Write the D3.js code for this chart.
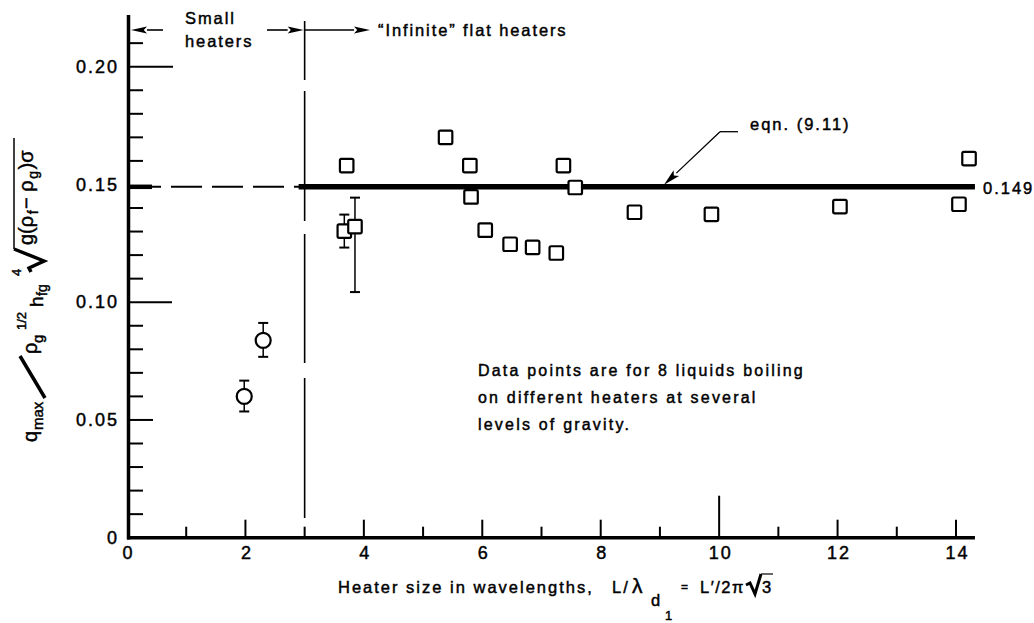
<!DOCTYPE html>
<html><head><meta charset="utf-8">
<script src="https://cdn.jsdelivr.net/npm/d3@7"></script>
<style>
body{margin:0;background:#fff}
svg{display:block}
text{font-family:"Liberation Sans",Arial,Helvetica,sans-serif;fill:#000;stroke:#000;stroke-width:0.45px}
</style>
</head><body>
<svg id="c" width="1034" height="623"></svg>
<script>
// ---- data ----
const squareX = [3.71, 5.38, 5.79, 7.37, 7.57, 5.81, 6.05, 6.47, 6.85, 7.25, 8.57, 9.87, 12.04, 14.05, 14.22];
const squareY = [0.158, 0.170, 0.158, 0.158, 0.1487, 0.1447, 0.1306, 0.1246, 0.1233, 0.1209, 0.1382, 0.1373, 0.1406, 0.1416, 0.161];
const errSquareX = [3.67, 3.85];
const errSquareY = [0.1302, 0.1321];
const errSquareLo = [0.1232, 0.1043];
const errSquareHi = [0.1372, 0.1444];
const circleX = [1.98, 2.30];
const circleY = [0.060, 0.0838];
const circleLo = [0.0536, 0.0768];
const circleHi = [0.0667, 0.0912];
const xTickLabels = [0, 2, 4, 6, 8, 10, 12, 14];
const yTickLabels = [0, 0.05, 0.10, 0.15, 0.20];
const eqnValue = 0.149;
const boundaryX = 3;
const lineEndX = 14.32;
const noteLines = ["Data points are for 8 liquids boiling", "on different heaters at several", "levels of gravity."];

// ---- scales ----
const x = d3.scaleLinear().domain([0, 14]).range([127, 956]);
const y = d3.scaleLinear().domain([0, 0.20]).range([537.7, 66.7]);

const svg = d3.select("#c");
const g = svg.append("g");

// axis lines
g.append("line").attr("x1", 128.5).attr("x2", 128.5).attr("y1", 15).attr("y2", 539.5)
  .attr("stroke", "#000").attr("stroke-width", 3.5);
g.append("line").attr("x1", 127).attr("x2", x(lineEndX)).attr("y1", y(0)).attr("y2", y(0))
  .attr("stroke", "#000").attr("stroke-width", 3.5);

// y ticks (inward)
const yMinor = d3.range(1, 22).filter(i => i % 5 !== 0).map(i => i / 100);
g.selectAll(".ymin").data(yMinor).enter().append("line")
  .attr("x1", 129).attr("x2", 143).attr("y1", d => y(d)).attr("y2", d => y(d))
  .attr("stroke", "#000").attr("stroke-width", 2);
const yMajor = [[0.05, 24], [0.10, 43], [0.20, 44]];
g.selectAll(".ymaj").data(yMajor).enter().append("line")
  .attr("x1", 129).attr("x2", d => 129 + d[1]).attr("y1", d => y(d[0])).attr("y2", d => y(d[0]))
  .attr("stroke", "#000").attr("stroke-width", 2);

// y tick labels
const yAxis = d3.axisLeft(y).tickValues(yTickLabels).tickSize(0).tickPadding(3)
  .tickFormat(d => d === 0 ? "0" : d.toFixed(2));
const ya = g.append("g").attr("transform", "translate(122,0)").call(yAxis);
ya.select(".domain").remove();
ya.selectAll("text").attr("font-size", 18).attr("letter-spacing", 2)
  .attr("font-family", '"Liberation Sans",Arial,sans-serif').attr("fill", "#000");

// x ticks (upward)
const xTickAll = d3.range(1, 15);
g.selectAll(".xt").data(xTickAll).enter().append("line")
  .attr("x1", d => x(d)).attr("x2", d => x(d)).attr("y1", y(0))
  .attr("y2", d => y(0) - (d === 10 ? 42 : (d % 2 === 0 ? 18 : 11)))
  .attr("stroke", "#000").attr("stroke-width", 2);

// x tick labels
const xAxis = d3.axisBottom(x).tickValues(xTickLabels).tickSize(0).tickPadding(9).tickFormat(d3.format("d"));
const xa = g.append("g").attr("transform", `translate(1,${y(0)})`).call(xAxis);
xa.select(".domain").remove();
xa.selectAll("text").attr("font-size", 18).attr("letter-spacing", 2)
  .attr("font-family", '"Liberation Sans",Arial,sans-serif').attr("fill", "#000");

// vertical dashed boundary
g.append("line").attr("x1", x(boundaryX)).attr("x2", x(boundaryX)).attr("y1", 21).attr("y2", 518)
  .attr("stroke", "#000").attr("stroke-width", 1.6)
  .attr("stroke-dasharray", "59,11,130,13,129,15,141");

// horizontal dashed at 0.149 (left of boundary)
g.append("line").attr("x1", 130).attr("x2", x(boundaryX)).attr("y1", y(eqnValue)).attr("y2", y(eqnValue))
  .attr("stroke", "#000").attr("stroke-width", 2).attr("stroke-dasharray", "31,10");
g.append("line").attr("x1", 130).attr("x2", 152).attr("y1", y(eqnValue)).attr("y2", y(eqnValue))
  .attr("stroke", "#000").attr("stroke-width", 4.5);

// thick eqn line
g.append("line").attr("x1", x(boundaryX) - 6).attr("x2", x(lineEndX)).attr("y1", y(eqnValue)).attr("y2", y(eqnValue))
  .attr("stroke", "#000").attr("stroke-width", 5.5);

// arrows helper
function arrow(x1, y1, x2, y2, len, hw, sw) {
  const a = Math.atan2(y2 - y1, x2 - x1);
  const bx = x2 - len * Math.cos(a), by = y2 - len * Math.sin(a);
  g.append("line").attr("x1", x1).attr("y1", y1).attr("x2", bx).attr("y2", by)
    .attr("stroke", "#000").attr("stroke-width", sw);
  const px = -Math.sin(a) * hw, py = Math.cos(a) * hw;
  g.append("path").attr("d", `M${x2},${y2}L${bx + px},${by + py}L${bx + len*0.2*Math.cos(a)},${by + len*0.2*Math.sin(a)}L${bx - px},${by - py}Z`)
    .attr("fill", "#000");
}
arrow(163, 30, 131, 30, 16, 3.5, 1.6);
arrow(267, 30, x(boundaryX) - 1, 30, 16, 3.5, 1.6);
arrow(x(boundaryX), 30, 370, 30, 16, 3.5, 1.6);

// top texts
const topText = (t, tx, ty) => g.append("text").attr("x", tx).attr("y", ty).attr("font-size", 16.5)
  .attr("letter-spacing", 1.9).text(t);
topText("Small", 185, 24);
topText("heaters", 185, 47);
topText("\u201CInfinite\u201D  flat heaters", 378, 36);

// error bars
function errBar(xs, lo, hi, cap) {
  g.append("line").attr("x1", xs).attr("x2", xs).attr("y1", y(lo)).attr("y2", y(hi))
    .attr("stroke", "#000").attr("stroke-width", 1.5);
  [lo, hi].forEach(v => g.append("line").attr("x1", xs - cap).attr("x2", xs + cap)
    .attr("y1", y(v)).attr("y2", y(v)).attr("stroke", "#000").attr("stroke-width", 2));
}
errSquareX.forEach((d, i) => errBar(x(d), errSquareLo[i], errSquareHi[i], 5));
circleX.forEach((d, i) => errBar(x(d), circleLo[i], circleHi[i], 5));

// squares
const sq = 13.5;
const allSqX = squareX.concat(errSquareX), allSqY = squareY.concat(errSquareY);
g.selectAll(".sq").data(d3.range(allSqX.length)).enter().append("rect")
  .attr("x", i => x(allSqX[i]) - sq / 2).attr("y", i => y(allSqY[i]) - sq / 2)
  .attr("width", sq).attr("height", sq).attr("rx", 1.5)
  .attr("fill", "#fff").attr("stroke", "#000").attr("stroke-width", 2.2);

// circles
g.selectAll(".ci").data(d3.range(circleX.length)).enter().append("circle")
  .attr("cx", i => x(circleX[i])).attr("cy", i => y(circleY[i])).attr("r", 7.5)
  .attr("fill", "#fff").attr("stroke", "#000").attr("stroke-width", 2.2);

// eqn label + leader
g.append("path").attr("d", "M738,131.7L720,131.7").attr("stroke", "#000").attr("stroke-width", 1.3);
arrow(720, 131.7, 664, y(eqnValue) - 2, 17, 4, 1.3);
g.append("text").attr("x", 750).attr("y", 130).attr("font-size", 16.5).attr("letter-spacing", 2).text("eqn. (9.11)");
g.append("text").attr("x", 983).attr("y", y(eqnValue) + 7).attr("font-size", 16.5).attr("letter-spacing", 2).text(String(eqnValue));

// note
noteLines.forEach((t, i) => g.append("text").attr("x", 478).attr("y", 376 + i * 27)
  .attr("font-size", 16).attr("letter-spacing", 2.2).text(t));

// x axis title
const xl = g.append("g");
const xt = (t, tx, ty, fs, ls) => xl.append("text").attr("x", tx).attr("y", ty).attr("font-size", fs)
  .attr("letter-spacing", ls === undefined ? 2 : ls).text(t);
xt("Heater size in wavelengths,", 338, 593, 16.5);
xt("L/", 612, 593, 16.5);
xt("\u03BB", 632, 593, 21, 0);
xt("d", 651, 606, 16.5, 0);
xt("1", 665, 620, 13, 0);
xt("=", 681, 591, 12, 0);
xt("L\u2032/2\u03C0", 700, 593, 16.5, 1.5);
xl.append("path").attr("d", "M746,585L750,583L755,594L761,574").attr("fill", "none")
  .attr("stroke", "#000").attr("stroke-width", 3).attr("stroke-linejoin", "miter");
xl.append("path").attr("d", "M761,574L773,574").attr("stroke", "#000").attr("stroke-width", 1.2);
xt("3", 762, 593, 16.5, 0);

// y axis title (rotated)
const yl = g.append("g").attr("transform", "translate(0,442) rotate(-90)");
const yt = (t, u, v, fs) => yl.append("text").attr("x", u).attr("y", v).attr("font-size", fs).text(t);
yt("q", 0, 37, 20);
yt("max", 12, 43, 15);
yl.append("path").attr("d", "M44,45L86,20").attr("stroke", "#000").attr("stroke-width", 3.5);
yt("\u03C1", 88, 37, 20);
yt("g", 99, 43, 15);
yt("1/2", 112, 26, 13);
yt("h", 135, 43, 19);
yt("fg", 146, 47, 14);
yt("4", 166, 21, 13);
yl.append("path").attr("d", "M170,31L174,29L181,44L193,14").attr("fill", "none")
  .attr("stroke", "#000").attr("stroke-width", 3.5);
yl.append("path").attr("d", "M193,14L304,14").attr("stroke", "#000").attr("stroke-width", 1.5);
let cu = 197;
[["g(\u03C1", 33, 20], ["f", 38, 14], ["\u2212 \u03C1", 33, 20], ["g", 38, 14], [")\u03C3", 33, 20]].forEach(p => {
  const t = yt(p[0], cu, p[1], p[2]);
  cu += t.node().getComputedTextLength() + 1.5;
});
</script>
</body></html>
